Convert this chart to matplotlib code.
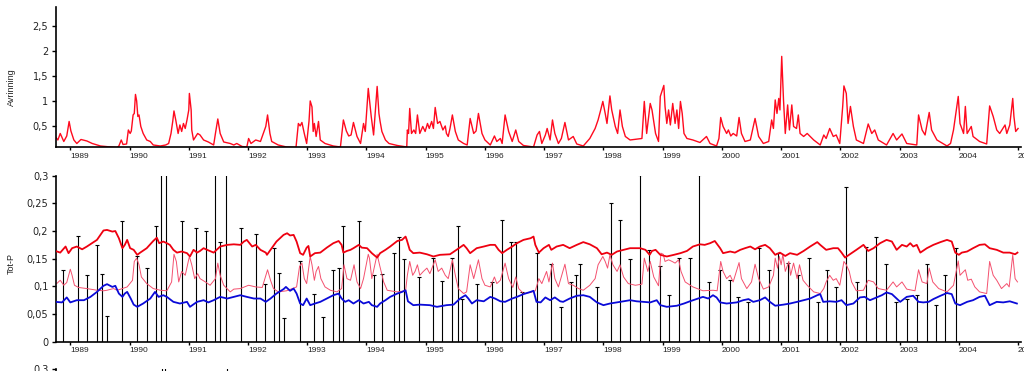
import matplotlib
matplotlib.use("Agg")
import matplotlib.pyplot as plt

# --- data (decimal years) ----------------------------------------------------

# Avrinning (runoff), top panel
runoff_t = [
    1988.75, 1988.79, 1988.83, 1988.89, 1988.94, 1988.98, 1989.01, 1989.06, 1989.11, 1989.18,
    1989.28, 1989.37, 1989.51, 1989.68, 1989.79, 1989.82, 1989.86, 1989.89, 1989.95, 1989.98,
    1990.01, 1990.03, 1990.06, 1990.08, 1990.10, 1990.12, 1990.14, 1990.16, 1990.19, 1990.23,
    1990.29, 1990.35, 1990.40, 1990.52, 1990.61, 1990.66, 1990.70, 1990.73, 1990.75, 1990.78,
    1990.82, 1990.85, 1990.88, 1990.91, 1990.94, 1990.97, 1991.00, 1991.01, 1991.04, 1991.05,
    1991.08, 1991.15, 1991.19, 1991.25, 1991.33, 1991.42, 1991.45, 1991.49, 1991.53, 1991.59,
    1991.70, 1991.76, 1991.81, 1991.90, 1991.98, 1992.01, 1992.05, 1992.13, 1992.21, 1992.30,
    1992.33, 1992.37, 1992.40, 1992.51, 1992.65, 1992.81, 1992.85, 1992.88, 1992.91, 1992.95,
    1992.99, 1993.03, 1993.05, 1993.08, 1993.10, 1993.12, 1993.15, 1993.19, 1993.22, 1993.30,
    1993.44, 1993.56, 1993.59, 1993.61, 1993.66, 1993.70, 1993.74, 1993.78, 1993.84, 1993.90,
    1993.95, 1993.98, 1994.03, 1994.05, 1994.08, 1994.12, 1994.18, 1994.21, 1994.23, 1994.26,
    1994.32, 1994.38, 1994.52, 1994.68, 1994.69, 1994.71, 1994.73, 1994.76, 1994.80, 1994.83,
    1994.86, 1994.90, 1994.95, 1994.99, 1995.03, 1995.06, 1995.10, 1995.13, 1995.16, 1995.20,
    1995.24, 1995.29, 1995.33, 1995.35, 1995.38, 1995.41, 1995.45, 1995.50, 1995.55, 1995.64,
    1995.70, 1995.75, 1995.81, 1995.85, 1995.89, 1995.95, 1996.00, 1996.09, 1996.16, 1996.20,
    1996.26, 1996.29, 1996.34, 1996.40, 1996.46, 1996.52, 1996.57, 1996.65, 1996.82, 1996.88,
    1996.92, 1996.96, 1997.02, 1997.05, 1997.10, 1997.14, 1997.18, 1997.24, 1997.29, 1997.35,
    1997.41, 1997.49, 1997.55, 1997.66, 1997.77, 1997.86, 1997.91, 1997.95, 1997.99, 1998.03,
    1998.06, 1998.11, 1998.14, 1998.20, 1998.24, 1998.28, 1998.32, 1998.37, 1998.45, 1998.65,
    1998.69, 1998.73, 1998.79, 1998.82, 1998.88, 1998.93, 1998.96, 1999.02, 1999.04, 1999.07,
    1999.10, 1999.13, 1999.17, 1999.21, 1999.24, 1999.27, 1999.30, 1999.33, 1999.36, 1999.41,
    1999.51, 1999.63, 1999.74, 1999.80, 1999.91, 1999.95, 1999.98, 2000.02, 2000.08, 2000.11,
    2000.15, 2000.19, 2000.25, 2000.29, 2000.33, 2000.39, 2000.48, 2000.56, 2000.62, 2000.70,
    2000.79, 2000.84, 2000.87, 2000.90, 2000.93, 2000.96, 2000.98, 2001.01, 2001.04, 2001.07,
    2001.11, 2001.14, 2001.18, 2001.21, 2001.26, 2001.29, 2001.32, 2001.38, 2001.44, 2001.55,
    2001.66, 2001.72, 2001.76, 2001.82, 2001.88, 2001.93, 2001.99, 2002.04, 2002.06, 2002.10,
    2002.13, 2002.17, 2002.22, 2002.27, 2002.39, 2002.47, 2002.53, 2002.58, 2002.64, 2002.78,
    2002.89, 2002.95, 2003.04, 2003.12, 2003.29, 2003.32, 2003.38, 2003.43, 2003.50, 2003.54,
    2003.63, 2003.80, 2003.86, 2003.91, 2003.99, 2004.02, 2004.08, 2004.11, 2004.14, 2004.21,
    2004.24, 2004.35, 2004.47, 2004.52, 2004.58, 2004.64, 2004.69, 2004.78, 2004.81, 2004.86,
    2004.91, 2004.93, 2004.96, 2005.00,
]
runoff = [
    0.28, 0.22, 0.35, 0.19, 0.30, 0.59, 0.40, 0.22, 0.15, 0.23,
    0.20, 0.15, 0.10, 0.08, 0.07, 0.10, 0.22, 0.13, 0.14, 0.42,
    0.35, 0.40, 0.72, 0.75, 1.13, 1.00, 0.69, 0.72, 0.49, 0.35,
    0.22, 0.19, 0.12, 0.10, 0.12, 0.15, 0.35, 0.60, 0.80, 0.62,
    0.35, 0.52, 0.39, 0.55, 0.45, 0.62, 0.82, 1.15, 0.82, 0.42,
    0.22, 0.35, 0.32, 0.22, 0.18, 0.12, 0.35, 0.64, 0.35, 0.18,
    0.15, 0.12, 0.15, 0.09, 0.08, 0.25, 0.15, 0.22, 0.19, 0.49,
    0.72, 0.35, 0.19, 0.12, 0.08, 0.07, 0.55, 0.50, 0.57, 0.35,
    0.15, 0.60, 1.00, 0.88, 0.39, 0.55, 0.29, 0.59, 0.22, 0.15,
    0.10, 0.08, 0.40, 0.62, 0.40, 0.30, 0.32, 0.57, 0.29, 0.15,
    0.55, 0.39, 1.25, 1.02, 0.69, 0.32, 1.29, 0.75, 0.59, 0.39,
    0.22, 0.15, 0.11, 0.08, 0.42, 0.35, 0.85, 0.35, 0.42, 0.35,
    0.72, 0.35, 0.49, 0.39, 0.55, 0.45, 0.59, 0.45, 0.87, 0.55,
    0.59, 0.42, 0.50, 0.35, 0.29, 0.45, 0.72, 0.39, 0.22, 0.15,
    0.12, 0.65, 0.35, 0.40, 0.75, 0.35, 0.22, 0.12, 0.30, 0.19,
    0.25, 0.15, 0.72, 0.39, 0.19, 0.42, 0.19, 0.11, 0.08, 0.32,
    0.39, 0.15, 0.32, 0.45, 0.22, 0.62, 0.35, 0.15, 0.25, 0.57,
    0.22, 0.29, 0.14, 0.10, 0.25, 0.45, 0.62, 0.80, 0.99, 0.75,
    0.55, 1.10, 0.82, 0.49, 0.35, 0.82, 0.49, 0.29, 0.22, 0.25,
    0.99, 0.35, 0.95, 0.82, 0.35, 0.19, 1.09, 1.31, 0.89, 0.55,
    0.82, 0.52, 0.95, 0.55, 0.82, 0.45, 0.99, 0.75, 0.35, 0.25,
    0.22, 0.17, 0.29, 0.15, 0.10, 0.25, 0.67, 0.49, 0.35, 0.42,
    0.30, 0.35, 0.30, 0.67, 0.35, 0.19, 0.22, 0.65, 0.29, 0.15,
    0.19, 0.62, 0.45, 1.02, 0.75, 1.05, 0.82, 1.89, 1.02, 0.35,
    0.92, 0.42, 0.92, 0.49, 0.45, 0.72, 0.35, 0.29, 0.35, 0.22,
    0.12, 0.32, 0.25, 0.45, 0.29, 0.32, 0.15, 0.90, 1.30, 1.15,
    0.55, 0.89, 0.49, 0.22, 0.15, 0.54, 0.35, 0.42, 0.22, 0.12,
    0.35, 0.22, 0.34, 0.15, 0.12, 0.72, 0.42, 0.32, 0.77, 0.42,
    0.22, 0.10, 0.15, 0.42, 1.09, 0.55, 0.35, 0.89, 0.35, 0.49,
    0.29, 0.19, 0.14, 0.90, 0.69, 0.42, 0.35, 0.52, 0.35, 0.52,
    1.05, 0.69, 0.39, 0.45,
]

# Tot-P, upper red line
totp_hi_t = [
    1988.75, 1988.83, 1988.92, 1988.97, 1989.03, 1989.11, 1989.20, 1989.28, 1989.45, 1989.56,
    1989.62, 1989.71, 1989.76, 1989.82, 1989.88, 1989.92, 1989.96, 1990.01, 1990.07, 1990.13,
    1990.18, 1990.29, 1990.40, 1990.46, 1990.50, 1990.57, 1990.63, 1990.68, 1990.74, 1990.80,
    1990.88, 1990.97, 1991.02, 1991.08, 1991.14, 1991.19, 1991.25, 1991.31, 1991.42, 1991.53,
    1991.65, 1991.76, 1991.87, 1991.93, 1991.98, 1992.07, 1992.13, 1992.21, 1992.30, 1992.32,
    1992.38, 1992.48, 1992.60, 1992.66, 1992.71, 1992.77, 1992.82, 1992.88, 1992.93, 1992.99,
    1993.02, 1993.05, 1993.13, 1993.22, 1993.33, 1993.44, 1993.53, 1993.58, 1993.61, 1993.67,
    1993.73, 1993.78, 1993.87, 1993.92, 1994.01, 1994.09, 1994.18, 1994.23, 1994.32, 1994.40,
    1994.52, 1994.60, 1994.66, 1994.68, 1994.73, 1994.79, 1994.90, 1995.02, 1995.13, 1995.24,
    1995.41, 1995.52, 1995.64, 1995.69, 1995.75, 1995.86, 1995.98, 1996.09, 1996.17, 1996.23,
    1996.29, 1996.37, 1996.46, 1996.54, 1996.65, 1996.77, 1996.82, 1996.85, 1996.91, 1996.99,
    1997.08, 1997.12, 1997.21, 1997.32, 1997.43, 1997.55, 1997.66, 1997.77, 1997.89, 1997.97,
    1998.06, 1998.14, 1998.23, 1998.34, 1998.45, 1998.62, 1998.71, 1998.78, 1998.82, 1998.88,
    1998.96, 1999.07, 1999.19, 1999.30, 1999.41, 1999.51, 1999.63, 1999.71, 1999.80, 1999.88,
    1999.97, 2000.02, 2000.14, 2000.22, 2000.31, 2000.39, 2000.48, 2000.56, 2000.64, 2000.73,
    2000.81, 2000.90, 2000.98, 2001.07, 2001.15, 2001.27, 2001.38, 2001.49, 2001.61, 2001.66,
    2001.76, 2001.88, 2001.96, 2002.02, 2002.08, 2002.16, 2002.27, 2002.39, 2002.47, 2002.56,
    2002.67, 2002.78, 2002.87, 2002.95, 2003.04, 2003.12, 2003.18, 2003.23, 2003.29, 2003.35,
    2003.46, 2003.57, 2003.69, 2003.80, 2003.88, 2003.94, 2004.00, 2004.05, 2004.14, 2004.24,
    2004.35, 2004.44, 2004.52, 2004.64, 2004.75, 2004.86, 2004.95, 2004.99,
]
totp_hi = [
    0.164, 0.161, 0.172, 0.160, 0.169, 0.172, 0.167, 0.172, 0.184, 0.201,
    0.202, 0.199, 0.200, 0.187, 0.169, 0.175, 0.184, 0.169, 0.166, 0.157,
    0.161, 0.169, 0.182, 0.188, 0.178, 0.181, 0.178, 0.175, 0.166, 0.161,
    0.163, 0.160, 0.154, 0.166, 0.161, 0.164, 0.169, 0.166, 0.161, 0.172,
    0.175, 0.176, 0.175, 0.181, 0.184, 0.172, 0.175, 0.166, 0.161, 0.157,
    0.166, 0.181, 0.193, 0.196, 0.192, 0.193, 0.181, 0.160, 0.157, 0.170,
    0.173, 0.154, 0.160, 0.161, 0.170, 0.178, 0.182, 0.175, 0.161, 0.164,
    0.166, 0.169, 0.175, 0.170, 0.169, 0.160, 0.152, 0.160, 0.166, 0.172,
    0.182, 0.184, 0.190, 0.184, 0.166, 0.160, 0.161, 0.158, 0.154, 0.157,
    0.158, 0.166, 0.175, 0.169, 0.160, 0.169, 0.172, 0.175, 0.175, 0.166,
    0.160, 0.166, 0.172, 0.178, 0.184, 0.187, 0.190, 0.175, 0.161, 0.169,
    0.175, 0.166, 0.172, 0.175, 0.169, 0.175, 0.180, 0.176, 0.169, 0.158,
    0.161, 0.157, 0.163, 0.166, 0.169, 0.169, 0.166, 0.157, 0.164, 0.166,
    0.157, 0.154, 0.157, 0.160, 0.164, 0.172, 0.176, 0.175, 0.178, 0.182,
    0.169, 0.160, 0.163, 0.161, 0.166, 0.169, 0.172, 0.167, 0.172, 0.175,
    0.169, 0.157, 0.161, 0.155, 0.160, 0.157, 0.164, 0.172, 0.180, 0.175,
    0.166, 0.169, 0.169, 0.161, 0.152, 0.158, 0.166, 0.175, 0.164, 0.169,
    0.178, 0.184, 0.181, 0.166, 0.175, 0.172, 0.178, 0.172, 0.175, 0.161,
    0.169, 0.175, 0.180, 0.184, 0.181, 0.161, 0.157, 0.161, 0.163, 0.169,
    0.175, 0.176, 0.169, 0.166, 0.161, 0.161, 0.158, 0.161,
]

# Tot-P, thin pink line (follows runoff)
totp_mid_t = [
    1988.77, 1988.83, 1988.89, 1988.94, 1989.00, 1989.03, 1989.07, 1989.14, 1989.28, 1989.45,
    1989.56, 1989.62, 1989.73, 1989.79, 1989.85, 1989.96, 1990.05, 1990.08, 1990.12, 1990.16,
    1990.20, 1990.29, 1990.40, 1990.52, 1990.63, 1990.71, 1990.75, 1990.79, 1990.83, 1990.88,
    1990.94, 1990.98, 1991.01, 1991.05, 1991.10, 1991.15, 1991.19, 1991.28, 1991.36, 1991.45,
    1991.49, 1991.53, 1991.59, 1991.70, 1991.76, 1991.87, 1992.01, 1992.13, 1992.24, 1992.33,
    1992.38, 1992.43, 1992.51, 1992.65, 1992.82, 1992.87, 1992.91, 1992.95, 1992.99, 1993.05,
    1993.08, 1993.12, 1993.15, 1993.19, 1993.23, 1993.30, 1993.39, 1993.50, 1993.58, 1993.62,
    1993.67, 1993.73, 1993.75, 1993.79, 1993.84, 1993.90, 1993.95, 1994.03, 1994.05, 1994.09,
    1994.18, 1994.22, 1994.29, 1994.35, 1994.40, 1994.52, 1994.66, 1994.69, 1994.73, 1994.78,
    1994.82, 1994.86, 1994.90, 1994.96, 1995.02, 1995.07, 1995.16, 1995.21, 1995.27, 1995.33,
    1995.38, 1995.45, 1995.50, 1995.55, 1995.64, 1995.69, 1995.75, 1995.81, 1995.89, 1995.95,
    1996.00, 1996.09, 1996.16, 1996.20, 1996.26, 1996.34, 1996.40, 1996.47, 1996.52, 1996.57,
    1996.65, 1996.77, 1996.85, 1996.91, 1996.96, 1997.04, 1997.08, 1997.14, 1997.18, 1997.24,
    1997.35, 1997.41, 1997.49, 1997.58, 1997.66, 1997.77, 1997.86, 1997.91, 1997.99, 1998.03,
    1998.07, 1998.11, 1998.16, 1998.23, 1998.28, 1998.34, 1998.42, 1998.54, 1998.65, 1998.69,
    1998.75, 1998.79, 1998.85, 1998.93, 1998.97, 1999.01, 1999.04, 1999.10, 1999.16, 1999.21,
    1999.27, 1999.31, 1999.38, 1999.51, 1999.68, 1999.85, 1999.92, 1999.98, 2000.02, 2000.08,
    2000.14, 2000.19, 2000.29, 2000.33, 2000.42, 2000.50, 2000.56, 2000.62, 2000.70, 2000.79,
    2000.87, 2000.90, 2000.94, 2000.97, 2001.00, 2001.03, 2001.07, 2001.13, 2001.16, 2001.21,
    2001.27, 2001.31, 2001.37, 2001.44, 2001.55, 2001.66, 2001.72, 2001.76, 2001.82, 2001.88,
    2001.93, 2001.99, 2002.06, 2002.10, 2002.15, 2002.19, 2002.27, 2002.39, 2002.47, 2002.56,
    2002.64, 2002.78, 2002.89, 2002.95, 2003.04, 2003.12, 2003.26, 2003.32, 2003.38, 2003.46,
    2003.50, 2003.56, 2003.66, 2003.80, 2003.91, 2003.99, 2004.02, 2004.11, 2004.15, 2004.21,
    2004.27, 2004.35, 2004.47, 2004.52, 2004.58, 2004.64, 2004.72, 2004.81, 2004.85, 2004.91,
    2004.95, 2004.99,
]
totp_mid = [
    0.105, 0.111, 0.102, 0.107, 0.131, 0.120, 0.102, 0.098, 0.096, 0.093,
    0.092, 0.093, 0.096, 0.093, 0.095, 0.099, 0.111, 0.145, 0.151, 0.139,
    0.117, 0.105, 0.096, 0.093, 0.092, 0.108, 0.158, 0.145, 0.108, 0.127,
    0.120, 0.139, 0.154, 0.139, 0.114, 0.123, 0.114, 0.108, 0.102, 0.114,
    0.142, 0.120, 0.102, 0.090, 0.095, 0.096, 0.102, 0.099, 0.098, 0.130,
    0.111, 0.096, 0.090, 0.092, 0.099, 0.136, 0.142, 0.114, 0.105, 0.154,
    0.139, 0.111, 0.127, 0.136, 0.114, 0.099, 0.093, 0.090, 0.096, 0.139,
    0.114, 0.111, 0.120, 0.139, 0.108, 0.096, 0.114, 0.158, 0.151, 0.114,
    0.158, 0.139, 0.108, 0.093, 0.092, 0.090, 0.092, 0.120, 0.145, 0.120,
    0.127, 0.139, 0.120, 0.127, 0.133, 0.123, 0.148, 0.127, 0.133, 0.120,
    0.114, 0.148, 0.120, 0.096, 0.087, 0.090, 0.139, 0.114, 0.148, 0.114,
    0.102, 0.099, 0.117, 0.105, 0.111, 0.142, 0.114, 0.098, 0.117, 0.096,
    0.087, 0.089, 0.092, 0.114, 0.105, 0.127, 0.108, 0.142, 0.114, 0.099,
    0.140, 0.105, 0.102, 0.096, 0.093, 0.102, 0.114, 0.139, 0.154, 0.145,
    0.133, 0.157, 0.139, 0.127, 0.139, 0.117, 0.105, 0.102, 0.104, 0.151,
    0.127, 0.145, 0.117, 0.101, 0.160, 0.158, 0.145, 0.148, 0.145, 0.142,
    0.148, 0.127, 0.108, 0.099, 0.092, 0.093, 0.092, 0.145, 0.127, 0.114,
    0.120, 0.108, 0.143, 0.114, 0.096, 0.108, 0.140, 0.114, 0.095, 0.099,
    0.120, 0.151, 0.133, 0.154, 0.139, 0.158, 0.127, 0.145, 0.120, 0.142,
    0.114, 0.139, 0.111, 0.102, 0.090, 0.087, 0.096, 0.108, 0.120, 0.111,
    0.114, 0.102, 0.145, 0.139, 0.127, 0.108, 0.092, 0.093, 0.111, 0.108,
    0.096, 0.093, 0.108, 0.099, 0.108, 0.095, 0.092, 0.130, 0.108, 0.105,
    0.133, 0.108, 0.096, 0.090, 0.102, 0.146, 0.120, 0.130, 0.111, 0.113,
    0.099, 0.090, 0.087, 0.145, 0.120, 0.111, 0.096, 0.105, 0.099, 0.157,
    0.114, 0.108,
]

# Tot-P, lower blue line
totp_lo_t = [
    1988.75, 1988.86, 1988.94, 1989.00, 1989.11, 1989.23, 1989.34, 1989.45, 1989.56, 1989.62,
    1989.71, 1989.76, 1989.82, 1989.88, 1989.92, 1989.96, 1990.02, 1990.07, 1990.13, 1990.23,
    1990.35, 1990.43, 1990.49, 1990.57, 1990.63, 1990.74, 1990.85, 1990.97, 1991.02, 1991.14,
    1991.25, 1991.33, 1991.42, 1991.53, 1991.65, 1991.76, 1991.87, 1991.98, 1992.10, 1992.21,
    1992.30, 1992.38, 1992.48, 1992.60, 1992.64, 1992.71, 1992.77, 1992.82, 1992.88, 1992.93,
    1992.99, 1993.05, 1993.13, 1993.22, 1993.33, 1993.44, 1993.53, 1993.58, 1993.64, 1993.70,
    1993.78, 1993.87, 1993.95, 1994.04, 1994.09, 1994.18, 1994.23, 1994.32, 1994.40, 1994.52,
    1994.60, 1994.66, 1994.70, 1994.79, 1994.90, 1995.07, 1995.19, 1995.35, 1995.47, 1995.58,
    1995.67, 1995.72, 1995.78, 1995.86, 1995.98, 1996.09, 1996.17, 1996.26, 1996.34, 1996.46,
    1996.54, 1996.65, 1996.77, 1996.82, 1996.87, 1996.94, 1997.02, 1997.10, 1997.18, 1997.27,
    1997.32, 1997.43, 1997.55, 1997.66, 1997.77, 1997.89, 1998.00, 1998.11, 1998.23, 1998.34,
    1998.45, 1998.56, 1998.68, 1998.79, 1998.90, 1998.96, 1999.07, 1999.24, 1999.36, 1999.46,
    1999.57, 1999.68, 1999.77, 1999.85, 1999.91, 1999.97, 2000.08, 2000.25, 2000.36, 2000.45,
    2000.53, 2000.64, 2000.73, 2000.81, 2000.90, 2001.04, 2001.15, 2001.27, 2001.38, 2001.49,
    2001.61, 2001.66, 2001.71, 2001.82, 2001.93, 2002.02, 2002.10, 2002.22, 2002.33, 2002.41,
    2002.50, 2002.61, 2002.70, 2002.78, 2002.87, 2002.95, 2003.01, 2003.12, 2003.23, 2003.32,
    2003.40, 2003.49, 2003.57, 2003.69, 2003.80, 2003.88, 2003.94, 2004.02, 2004.14, 2004.24,
    2004.35, 2004.44, 2004.52, 2004.64, 2004.75, 2004.86, 2004.98,
]
totp_lo = [
    0.072, 0.071, 0.080, 0.071, 0.075, 0.075, 0.081, 0.090, 0.101, 0.104,
    0.099, 0.101, 0.087, 0.081, 0.087, 0.090, 0.078, 0.067, 0.063, 0.069,
    0.078, 0.090, 0.081, 0.084, 0.081, 0.072, 0.069, 0.072, 0.063, 0.072,
    0.075, 0.071, 0.075, 0.081, 0.078, 0.081, 0.084, 0.081, 0.078, 0.078,
    0.072, 0.078, 0.087, 0.095, 0.099, 0.092, 0.096, 0.087, 0.069, 0.066,
    0.078, 0.066, 0.069, 0.072, 0.078, 0.084, 0.087, 0.078, 0.072, 0.075,
    0.069, 0.075, 0.069, 0.072, 0.066, 0.063, 0.069, 0.075, 0.081, 0.087,
    0.090, 0.093, 0.073, 0.066, 0.067, 0.066, 0.063, 0.066, 0.067, 0.078,
    0.084, 0.078, 0.069, 0.075, 0.073, 0.081, 0.078, 0.073, 0.072, 0.078,
    0.081, 0.086, 0.090, 0.092, 0.072, 0.071, 0.080, 0.075, 0.080, 0.073,
    0.072, 0.078, 0.083, 0.084, 0.081, 0.071, 0.066, 0.069, 0.071, 0.073,
    0.075, 0.073, 0.072, 0.071, 0.075, 0.066, 0.063, 0.065, 0.069, 0.073,
    0.077, 0.081, 0.078, 0.084, 0.080, 0.071, 0.069, 0.071, 0.075, 0.077,
    0.072, 0.075, 0.080, 0.072, 0.065, 0.067, 0.069, 0.072, 0.075, 0.078,
    0.084, 0.086, 0.072, 0.073, 0.072, 0.075, 0.066, 0.069, 0.080, 0.081,
    0.075, 0.080, 0.084, 0.089, 0.086, 0.078, 0.072, 0.081, 0.083, 0.072,
    0.071, 0.072, 0.077, 0.083, 0.088, 0.086, 0.069, 0.066, 0.072, 0.075,
    0.081, 0.083, 0.066, 0.072, 0.071, 0.073, 0.069,
]

# Tot-P, single samples (drawn as stems)
sample_t = [
    1988.88, 1989.13, 1989.29, 1989.45, 1989.54, 1989.62, 1989.88, 1990.13, 1990.29, 1990.45,
    1990.53, 1990.61, 1990.88, 1991.12, 1991.29, 1991.45, 1991.53, 1991.62, 1991.88, 1992.13,
    1992.28, 1992.44, 1992.53, 1992.61, 1992.87, 1993.11, 1993.27, 1993.44, 1993.53, 1993.61,
    1993.88, 1994.12, 1994.27, 1994.46, 1994.55, 1994.63, 1994.88, 1995.12, 1995.27, 1995.44,
    1995.54, 1995.61, 1995.87, 1996.12, 1996.29, 1996.44, 1996.52, 1996.63, 1996.88, 1997.11,
    1997.29, 1997.45, 1997.53, 1997.60, 1997.89, 1998.13, 1998.28, 1998.45, 1998.62, 1998.77,
    1998.96, 1999.11, 1999.28, 1999.47, 1999.62, 1999.79, 1999.97, 2000.13, 2000.28, 2000.44,
    2000.62, 2000.79, 2000.94, 2001.11, 2001.28, 2001.47, 2001.62, 2001.78, 2001.93, 2002.10,
    2002.28, 2002.43, 2002.60, 2002.77, 2002.94, 2003.12, 2003.29, 2003.46, 2003.61, 2003.77,
    2003.96,
]
sample = [
    0.130, 0.191, 0.120, 0.175, 0.123, 0.047, 0.218, 0.155, 0.134, 0.209,
    0.350, 0.350, 0.219, 0.205, 0.200, 0.350, 0.180, 0.350, 0.205, 0.194,
    0.105, 0.169, 0.124, 0.042, 0.145, 0.086, 0.045, 0.130, 0.134, 0.209,
    0.218, 0.120, 0.123, 0.160, 0.190, 0.149, 0.117, 0.151, 0.110, 0.151,
    0.209, 0.078, 0.104, 0.108, 0.220, 0.180, 0.180, 0.089, 0.161, 0.140,
    0.063, 0.108, 0.120, 0.140, 0.099, 0.250, 0.220, 0.149, 0.302, 0.165,
    0.136, 0.084, 0.151, 0.151, 0.302, 0.108, 0.130, 0.111, 0.081, 0.072,
    0.170, 0.130, 0.160, 0.142, 0.120, 0.151, 0.072, 0.130, 0.099, 0.280,
    0.108, 0.172, 0.190, 0.140, 0.072, 0.078, 0.084, 0.140, 0.066, 0.120,
    0.169,
]

# third panel, only its top edge is inside the picture
next_t = [1990.55, 1990.60, 1991.64]
next_vals = [0.40, 0.40, 0.40]

years = list(range(1989, 2006))
runoff_ticks = [0.5, 1, 1.5, 2, 2.5]
runoff_labels = ["0,5", "1", "1,5", "2", "2,5"]
totp_ticks = [0, 0.05, 0.1, 0.15, 0.2, 0.25, 0.3]
totp_labels = ["0", "0,05", "0,1", "0,15", "0,2", "0,25", "0,3"]

# --- figure --------------------------------------------------------------------
fig = plt.figure(figsize=(10.24, 3.71), dpi=100)
left, width = 0.0542, 0.9429
XLIM = (1988.75, 2005.05)

ax1 = fig.add_axes([left, 0.6038, width, 0.3765])
ax2 = fig.add_axes([left, 0.0790, width, 0.4474])
ax3 = fig.add_axes([left, 0.0046 - 0.4474, width, 0.4474])


def style(ax, yticks, ylabels, show_x=True):
    ax.set_xlim(*XLIM)
    for s in ("top", "right"):
        ax.spines[s].set_visible(False)
    for s in ("left", "bottom"):
        ax.spines[s].set_linewidth(1.2)
    ax.set_yticks(yticks)
    ax.set_yticklabels(ylabels, fontsize=7, family="DejaVu Sans", color="#222222")
    ax.tick_params(axis="y", length=3.2, width=1.0, pad=2)
    ax.set_xticks(years)
    if show_x:
        ax.set_xticklabels([str(y) for y in years], fontsize=6, family="Liberation Sans",
                           ha="left", color="#222222")
    else:
        ax.set_xticklabels([])
    ax.tick_params(axis="x", length=2.5, width=1.0, pad=1.5)


# top: runoff
ax1.plot(runoff_t, runoff, color="#ff0a1e", lw=1.0)
ax1.set_ylim(0.08, 2.87)
style(ax1, runoff_ticks, runoff_labels)

# middle: Tot-P
ax2.vlines(sample_t, 0, sample, color="black", lw=0.8, zorder=1)
ax2.plot(sample_t, sample, ls="none", marker="_", ms=2.5, mew=0.8, color="black", zorder=1)
ax2.plot(totp_mid_t, totp_mid, color="#f4506e", lw=0.7, zorder=2)
ax2.plot(totp_hi_t, totp_hi, color="#ee0010", lw=1.3, zorder=3)
ax2.plot(totp_lo_t, totp_lo, color="#0a0ad8", lw=1.3, zorder=3)
ax2.set_ylim(0, 0.3)
style(ax2, totp_ticks, totp_labels)

# bottom: next panel, cut off by the figure edge
ax3.vlines(next_t, 0, next_vals, color="black", lw=0.8)
ax3.set_ylim(0, 0.3)
style(ax3, [0.3], ["0,3"], show_x=False)

fig.text(0.0114, 0.7655, "Avrinning", rotation=90, ha="center", va="center",
         fontsize=6.5, family="Liberation Sans", color="#222222")
fig.text(0.0114, 0.291, "Tot-P", rotation=90, ha="center", va="center",
         fontsize=6.5, family="Liberation Sans", color="#222222")

fig.savefig("out.png", dpi=100)
